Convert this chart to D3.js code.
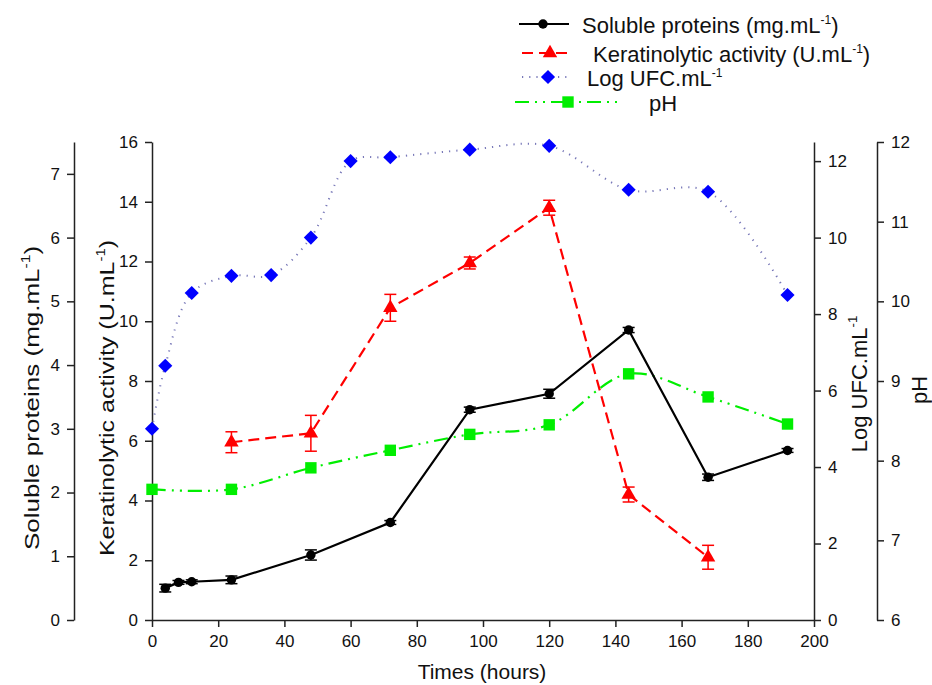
<!DOCTYPE html>
<html>
<head>
<meta charset="utf-8">
<script src="https://cdn.jsdelivr.net/npm/d3@7"></script>
<style>
  body { margin: 0; background: #fff; }
  text { font-family: "Liberation Sans", Arial, sans-serif; }
</style>
</head>
<body>
<div id="chart"></div>
<script>
// values
var hoursProtein = [4, 8, 12, 24, 48, 72, 96, 120, 144, 168, 192];
var protein = [0.50, 0.59, 0.60, 0.63, 1.02, 1.53, 3.30, 3.55, 4.55, 2.24, 2.66];
var proteinErr = [0.06, 0.03, 0.03, 0.06, 0.08, 0.03, 0.04, 0.07, 0.04, 0.05, 0.03];

var hoursKerat = [24, 48, 72, 96, 120, 144, 168];
var kerat = [5.95, 6.25, 10.45, 11.95, 13.8, 4.2, 2.1];
var keratErr = [0.35, 0.6, 0.45, 0.2, 0.25, 0.25, 0.4];

var hoursUfc = [0, 4, 12, 24, 36, 48, 60, 72, 96, 120, 144, 168, 192];
var logUfc = [5.0, 6.65, 8.55, 9.0, 9.02, 10.0, 12.0, 12.1, 12.3, 12.4, 11.25, 11.2, 8.5];

var hoursPh = [0, 24, 48, 72, 96, 120, 144, 168, 192];
var ph = [7.64, 7.64, 7.91, 8.13, 8.33, 8.45, 9.09, 8.8, 8.46];

var xTicks = d3.range(0, 201, 20);

var width = 932, height = 685;
var plotL = 152, plotR = 814, plotT = 142, plotB = 620;

var svg = d3.select("#chart")
  .append("svg")
  .attr("width", width)
  .attr("height", height);

var x = d3.scaleLinear().domain([0, 200]).range([plotL, plotR]);
var yProt = d3.scaleLinear().domain([0, 7.5]).range([plotB, plotT]);
var yKer = d3.scaleLinear().domain([0, 16]).range([plotB, plotT]);
var yUfc = d3.scaleLinear().domain([0, 12.5]).range([plotB, plotT]);
var yPh = d3.scaleLinear().domain([6, 12]).range([plotB, plotT]);

function styleAxis(g) {
  g.selectAll("path, line").attr("stroke", "#222").attr("stroke-width", 1.5);
  g.selectAll("text").style("font-size", "17px").attr("fill", "#111");
}

// x axis
svg.append("g")
  .attr("transform", "translate(0," + plotB + ")")
  .call(d3.axisBottom(x).tickValues(xTicks).tickSize(7).tickSizeOuter(0).tickPadding(8))
  .call(styleAxis);

// left axes
svg.append("g")
  .attr("transform", "translate(74,0)")
  .call(d3.axisLeft(yProt).tickValues(d3.range(0, 8)).tickFormat(d3.format("d")).tickSize(7).tickSizeOuter(0).tickPadding(7))
  .call(styleAxis);

svg.append("g")
  .attr("transform", "translate(" + plotL + ",0)")
  .call(d3.axisLeft(yKer).tickValues(d3.range(0, 17, 2)).tickFormat(d3.format("d")).tickSize(7).tickSizeOuter(0).tickPadding(7))
  .call(styleAxis);

// right axes
svg.append("g")
  .attr("transform", "translate(" + plotR + ",0)")
  .call(d3.axisRight(yUfc).tickValues(d3.range(0, 13, 2)).tickFormat(d3.format("d")).tickSize(7).tickSizeOuter(0).tickPadding(7))
  .call(styleAxis);

svg.append("g")
  .attr("transform", "translate(877,0)")
  .call(d3.axisRight(yPh).tickValues(d3.range(6, 13)).tickFormat(d3.format("d")).tickSize(7).tickSizeOuter(0).tickPadding(7))
  .call(styleAxis);

// axis titles
function supTitle(xp, yp, main, tail, size, squeeze) {
  var t = svg.append("text")
    .attr("transform", "translate(" + xp + "," + yp + ") rotate(-90) scale(1," + squeeze + ")")
    .attr("text-anchor", "middle")
    .style("font-size", size + "px")
    .attr("fill", "#111");
  t.append("tspan").text(main);
  if (tail !== null) {
    t.append("tspan").attr("dy", -size * 0.45).style("font-size", (size * 0.6) + "px").text("-1");
    t.append("tspan").attr("dy", size * 0.45).text(tail);
  }
  return t;
}

supTitle(39, 398, "Soluble proteins (mg.mL", ")", 26, 0.8);
supTitle(114, 398, "Keratinolytic activity (U.mL", ")", 25, 0.82);
supTitle(867, 384, "Log UFC.mL", "", 22, 1);
supTitle(927, 390, "pH", null, 22, 1);

svg.append("text")
  .attr("x", (plotL + plotR) / 2 - 1)
  .attr("y", 679)
  .attr("text-anchor", "middle")
  .style("font-size", "21px")
  .attr("fill", "#111")
  .text("Times (hours)");

// series
var series = [
  { name: "Soluble proteins (mg.mL", tail: ")", hours: hoursProtein, vals: protein, err: proteinErr, y: yProt,
    color: "#000", dash: null, width: 2.2, curve: d3.curveLinear, symbol: d3.symbolCircle, size: 70, rot: 0, ecolor: "#000" },
  { name: "Keratinolytic activity (U.mL", tail: ")", hours: hoursKerat, vals: kerat, err: keratErr, y: yKer,
    color: "#ff0000", dash: "11,6", width: 2.2, curve: d3.curveLinear, symbol: d3.symbolTriangle, size: 90, rot: 0, ecolor: "#ff0000" },
  { name: "Log UFC.mL", tail: "", hours: hoursUfc, vals: logUfc, err: null, y: yUfc,
    color: "#7878b8", dash: "1.2,6", width: 2, curve: d3.curveCatmullRom, symbol: d3.symbolSquare, size: 100, rot: 45, mcolor: "#0000ff" },
  { name: "pH", tail: null, hours: hoursPh, vals: ph, err: null, y: yPh,
    color: "#00ee00", dash: "14,6,2,6,2,6", width: 2.2, curve: d3.curveCatmullRom, symbol: d3.symbolSquare, size: 130, rot: 0, mcolor: "#00ee00" }
];

var drawOrder = [2, 3, 1, 0];
drawOrder.forEach(function (i) {
  var s = series[i];
  var pts = s.hours.map(function (h, j) { return { h: h, v: s.vals[j], e: s.err ? s.err[j] : 0 }; });
  var line = d3.line()
    .x(function (d) { return x(d.h); })
    .y(function (d) { return s.y(d.v); })
    .curve(s.curve);
  svg.append("path")
    .datum(pts)
    .attr("d", line)
    .attr("fill", "none")
    .attr("stroke", s.color)
    .attr("stroke-width", s.width)
    .attr("stroke-dasharray", s.dash);

  if (s.err) {
    var eg = svg.append("g").attr("stroke", s.ecolor).attr("stroke-width", 1.5);
    pts.forEach(function (d) {
      var y1 = s.y(d.v - d.e), y2 = s.y(d.v + d.e), cx = x(d.h);
      eg.append("line").attr("x1", cx).attr("x2", cx).attr("y1", y1).attr("y2", y2);
      eg.append("line").attr("x1", cx - 6).attr("x2", cx + 6).attr("y1", y1).attr("y2", y1);
      eg.append("line").attr("x1", cx - 6).attr("x2", cx + 6).attr("y1", y2).attr("y2", y2);
    });
  }

  svg.append("g").selectAll("path")
    .data(pts)
    .enter()
    .append("path")
    .attr("transform", function (d) { return "translate(" + x(d.h) + "," + s.y(d.v) + ") rotate(" + s.rot + ")"; })
    .attr("d", d3.symbol().type(s.symbol).size(s.size))
    .attr("fill", s.mcolor || s.color);
});

// legend
var legendRows = [
  { s: 0, y: 24, x1: 519, x2: 569, mx: 543, tx: 582 },
  { s: 1, y: 53, x1: 522, x2: 573, mx: 550, tx: 593 },
  { s: 2, y: 77, x1: 522, x2: 571, mx: 548, tx: 587 },
  { s: 3, y: 102, x1: 515, x2: 617, mx: 568, tx: 649 }
];
legendRows.forEach(function (r) {
  var s = series[r.s];
  svg.append("line")
    .attr("x1", r.x1).attr("x2", r.x2).attr("y1", r.y).attr("y2", r.y)
    .attr("stroke", s.color)
    .attr("stroke-width", s.width)
    .attr("stroke-dasharray", s.dash);
  svg.append("path")
    .attr("transform", "translate(" + r.mx + "," + r.y + ") rotate(" + s.rot + ")")
    .attr("d", d3.symbol().type(s.symbol).size(s.size))
    .attr("fill", s.mcolor || s.color);
  var t = svg.append("text")
    .attr("x", r.tx)
    .attr("y", r.y + 9)
    .style("font-size", "22px")
    .attr("fill", "#111");
  t.append("tspan").text(s.name);
  if (s.tail !== null) {
    t.append("tspan").attr("dy", -9).style("font-size", "12px").text("-1");
    t.append("tspan").attr("dy", 9).text(s.tail);
  }
});
</script>
</body>
</html>
